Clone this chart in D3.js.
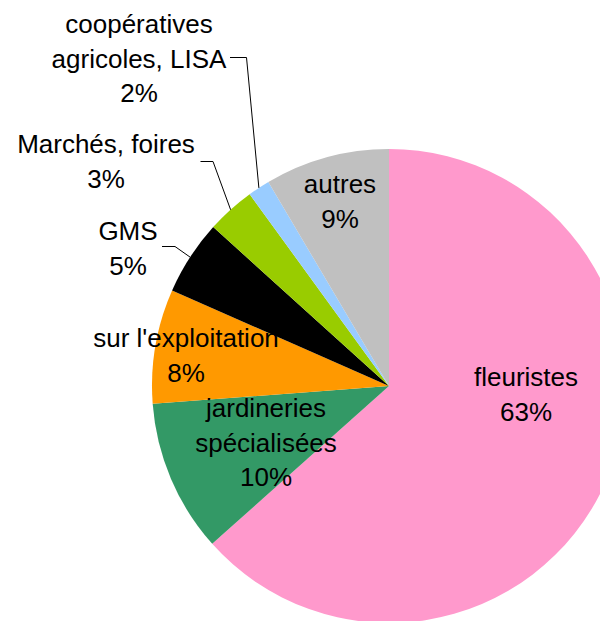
<!DOCTYPE html>
<html>
  <head>
    <meta http-equiv="Content-Type" content="text/html;charset=utf-8"/>
    <title>Circuits de vente</title>
    <script src="https://cdn.jsdelivr.net/npm/d3@7/dist/d3.min.js"></script>
    <style>
      body { margin: 0; background: #fff; }
      text { font-family: "Liberation Sans", Arial, sans-serif; font-size: 26px; fill: #000; }
    </style>
  </head>
  <body>
    <svg id="target"></svg>
  </body>
  <script>
    var categories = [ "fleuristes", "jardineries spécialisées", "sur l'exploitation", "GMS",
                       "Marchés, foires", "coopératives agricoles, LISA", "autres" ];
    var values = [ 63.4, 10.4, 7.8, 5.1, 3.3, 1.5, 8.5 ];
    var pctLabels = [ "63%", "10%", "8%", "5%", "3%", "2%", "9%" ];
    var colors = [ "#FF99CC", "#339966", "#FF9900", "#000000", "#99CC00", "#99CCFF", "#C0C0C0" ];

    // lignes de texte de chaque étiquette
    var labelLines = [ ["fleuristes"], ["jardineries", "spécialisées"], ["sur l'exploitation"], ["GMS"],
                       ["Marchés, foires"], ["coopératives", "agricoles, LISA"], ["autres"] ];

    var width = 600, height = 621;
    var cx = 389, cy = 386, radius = 237;
    var lineH = 34.5;

    // position du texte (centre x, première ligne de base) et repères des traits de rappel
    var layout = [
      { x: 526, y: 386 },
      { x: 266, y: 417 },
      { x: 186, y: 347 },
      { x: 128, y: 240, lx: 162, ly: 246.5, ex: 175 },
      { x: 106, y: 153, lx: 200.5, ly: 161.5, ex: 213 },
      { x: 139, y: 33, lx: 230, ly: 57.5, ex: 246.5 }
    ];
    layout.push( { x: 340, y: 193 } );

    var target = d3.select( "#target" ).attr( "width", width ).attr( "height", height );
    var g = target.append( "g" ).attr( "transform", "translate(" + cx + "," + cy + ")" );

    var pie = d3.pie().sort( null ).value( d => d ).startAngle( 0 ).endAngle( 2 * Math.PI );
    var arcs = pie( values );
    var arc = d3.arc().innerRadius( 0 ).outerRadius( radius );
    var edge = d3.arc().innerRadius( radius ).outerRadius( radius );

    g.selectAll( "path" ).data( arcs )
      .enter().append( "path" )
        .attr( "d", arc )
        .attr( "fill", ( d, i ) => colors[i] );

    // traits de rappel pour les petites parts
    arcs.forEach( function( d, i ) {
      var p = layout[i];
      if ( p.lx === undefined ) return;
      var c = edge.centroid( d );
      target.append( "polyline" )
        .attr( "points", [ [p.lx, p.ly], [p.ex, p.ly], [cx + c[0], cy + c[1]] ].map( q => q.join( "," ) ).join( " " ) )
        .attr( "fill", "none" )
        .attr( "stroke", "#000" )
        .attr( "stroke-width", 1 );
    } );

    var labels = target.selectAll( "text.lbl" ).data( arcs )
      .enter().append( "text" )
        .attr( "class", "lbl" )
        .attr( "text-anchor", "middle" );

    labels.each( function( d, i ) {
      var t = d3.select( this );
      var lines = labelLines[i].concat( [ pctLabels[i] ] );
      lines.forEach( function( s, k ) {
        t.append( "tspan" )
          .attr( "x", layout[i].x )
          .attr( "y", layout[i].y + k * lineH )
          .text( s );
      } );
    } );
  </script>
</html>
